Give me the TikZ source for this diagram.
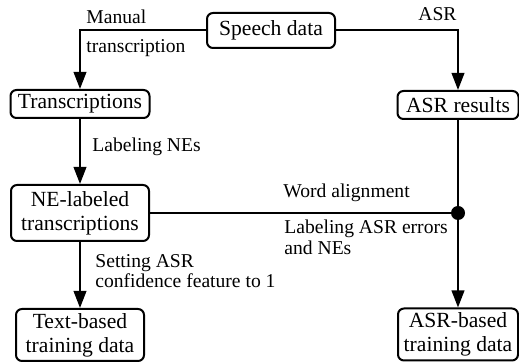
\documentclass[tikz,border=0pt]{standalone}
\usepackage{fontspec}
\setmainfont{Liberation Serif}
\usepackage{tikz}
\usetikzlibrary{arrows.meta,positioning,calc}
\newcommand{\boxfont}{\rmfamily\fontsize{10.8}{12}\selectfont}
\newcommand{\lblfont}{\rmfamily\fontsize{9.8}{10.2}\selectfont}
\tikzset{
    stage/.style={
        draw,
        rectangle,
        rounded corners=3pt,
        line width=1pt,
        align=center,
        inner sep=0pt,
        font=\boxfont
    },
    flow/.style={
        -{Triangle[length=8.5pt,width=6.3pt]},
        line width=1pt
    },
    plain/.style={
        line width=1pt
    },
    note/.style={
        font=\lblfont,
        inner sep=0pt,
        align=left
    }
}

\begin{document}
\begin{tikzpicture}[x=0.5pt,y=-0.5pt]
    \useasboundingbox (0,0) rectangle (519,362);
    % Source
    \node[stage, minimum width=64pt, minimum height=17.5pt] (speech) at (271,30.5) {Speech data};

    % Intermediate results
    \node[stage, minimum width=69.5pt, minimum height=14pt] (trans) at (80,104) {Transcriptions};
    \node[stage, minimum width=60.5pt, minimum height=14pt] (asrres) at (458,105) {ASR results};
    \node[stage, minimum width=69pt, minimum height=28pt] (nelab) at (80,213) {NE-labeled\\transcriptions};
    \node[circle, fill, inner sep=0pt, minimum size=7pt] (junc) at (458,213) {};

    % Training data
    \node[stage, minimum width=64pt, minimum height=26pt] (textb) at (80,335) {Text-based\\training data};
    \node[stage, minimum width=60pt, minimum height=26pt] (asrb) at (458,334.5) {ASR-based\\training data};

    % Arrows
    \draw[flow] (speech.west) -| (trans.north);
    \draw[flow] (speech.east) -| (asrres.north);
    \draw[flow] (trans) -- (nelab);
    \draw[plain] (asrres) -- (junc);
    \draw[plain] (nelab) -- (junc);
    \draw[flow] (junc) -- (asrb);
    \draw[flow] (nelab) -- (textb);

    % Labels
    \node[note, anchor=north west, font=\rmfamily\fontsize{9.8}{14.5}\selectfont] (lmanual) at (86,10) {Manual\\transcription};
    \node[note, anchor=base west] (lasr) at (418,21) {ASR};
    \node[note, anchor=base west] (lne) at (92,152) {Labeling NEs};
    \node[note, anchor=base west] (lalign) at (283,198) {Word alignment};
    \node[note, anchor=north west, font=\rmfamily\fontsize{9.8}{10.5}\selectfont] (lerr) at (284,220) {Labeling ASR errors\\and NEs};
    \node[note, anchor=north west] (lconf) at (95,254) {Setting ASR\\confidence feature to 1};
\end{tikzpicture}
\end{document}
